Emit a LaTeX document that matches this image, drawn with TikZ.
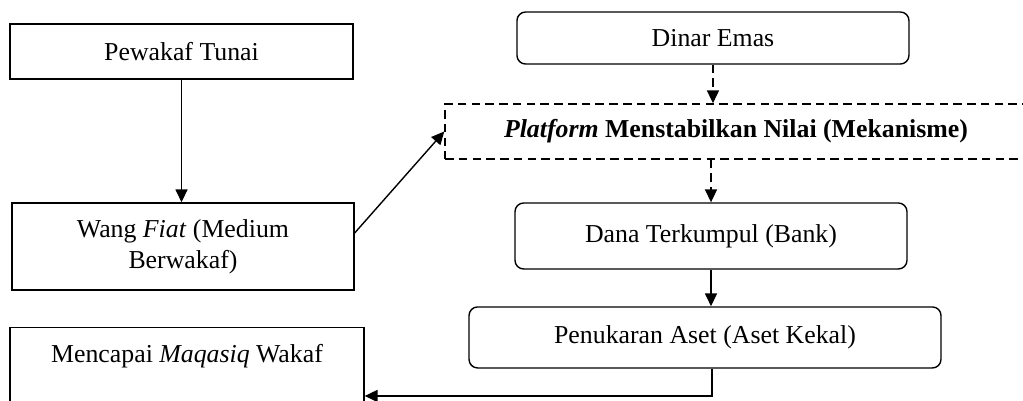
\documentclass[tikz,border=0pt]{standalone}
\usepackage{fontspec}
\setmainfont{Liberation Serif}
\usetikzlibrary{arrows.meta}
\tikzset{
  plainbox/.style={rectangle,draw,line width=0.65pt,inner sep=0pt,align=center},
  roundbox/.style={plainbox,rounded corners=4pt},
  dashbox/.style={plainbox,dash pattern=on 4pt off 2.4pt},
  flow/.style={-{Triangle[length=6pt,width=5.6pt]},line width=0.65pt},
  dashflow/.style={flow,dash pattern=on 4pt off 2.4pt}
}

\begin{document}
\begin{tikzpicture}[every node/.style={font=\fontsize{12}{14.5}\selectfont}]

\useasboundingbox (0,0) rectangle (16.716,6.552);

% Left column
\node[plainbox,minimum width=5.605cm,minimum height=0.899cm] (Pewakaf) at (2.966,5.711) {Pewakaf Tunai};
\node[plainbox,minimum width=5.588cm,minimum height=1.422cm] (Fiat) at (2.990,2.525) {Wang \textit{Fiat} (Medium\\Berwakaf)};
\node[plainbox,minimum width=5.784cm,anchor=north,text height=8pt,text depth=40pt,inner ysep=8.3pt] (Maqasiq) at (3.056,1.209) {Mencapai \textit{Maqasiq} Wakaf};

% Right column
\node[roundbox,minimum width=6.405cm,minimum height=0.850cm] (Dinar) at (11.650,5.931) {Dinar Emas};
\node[dashbox,minimum width=9.510cm,minimum height=0.899cm] (Platform) at (12.026,4.404) {\textbf{\textit{Platform} Menstabilkan Nilai (Mekanisme)}};
\node[roundbox,minimum width=6.405cm,minimum height=1.078cm] (Dana) at (11.618,2.696) {Dana Terkumpul (Bank)};
\node[roundbox,minimum width=7.712cm,minimum height=0.997cm] (Aset) at (11.520,1.038) {Penukaran Aset (Aset Kekal)};

% Corner of the return line
\coordinate (turn) at (11.634,0.082);

% Connectors
\draw[flow] (Pewakaf.south) -- (Pewakaf.south |- Fiat.north);
\draw[flow] ([yshift=0.22cm]Fiat.east) -- (Platform.west);
\draw[dashflow] (Dinar.south) -- (Dinar.south |- Platform.north);
\draw[dashflow] (Dana.north |- Platform.south) -- (Dana.north);
\draw[flow] (Dana.south) -- (Dana.south |- Aset.north);
\draw[flow] (Aset.south -| turn) -- (turn) -- (turn -| Maqasiq.east);

\end{tikzpicture}
\end{document}
